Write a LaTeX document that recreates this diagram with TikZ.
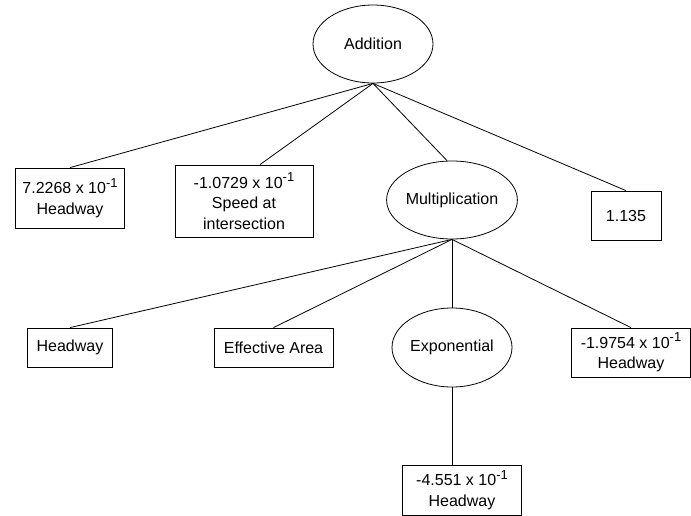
\documentclass[tikz,border=0pt]{standalone}
\usepackage{fontspec}
\setmainfont{Liberation Sans}
\usetikzlibrary{shapes.geometric,calc}
\newcommand{\supexp}[1]{\raisebox{0.42em}{\fontsize{13}{13}\selectfont #1}}
\begin{document}
\begin{tikzpicture}[x=1pt,y=-1pt,
  every node/.style={font=\fontsize{16}{20.5}\selectfont, inner sep=0pt},
  oval/.style={draw, ellipse, line width=0.8pt, minimum width=120pt, minimum height=78pt},
  leaf/.style={draw, rectangle, line width=0.8pt, align=center},
  edge/.style={line width=0.8pt}]
\useasboundingbox (0,0) rectangle (691,515);
\node[oval] (add) at (373,44) {Addition};
\node[leaf, minimum width=109pt, minimum height=60pt] (c1) at (70,198) {7.2268 x 10\supexp{-1}\\Headway};
\node[leaf, minimum width=138pt, minimum height=72pt] (c2) at (244,201) {-1.0729 x 10\supexp{-1}\\Speed at\\intersection};
\node[oval] (mul) at (452,200) {Multiplication};
\node[leaf, minimum width=70pt, minimum height=49pt] (c4) at (626,215.5) {1.135};
\node[leaf, minimum width=85pt, minimum height=39pt] (m1) at (70,347.5) {Headway};
\node[leaf, minimum width=119pt, minimum height=39pt] (m2) at (273.5,347.5) {Effective Area};
\node[oval, minimum height=79pt] (exp) at (452,347.5) {Exponential};
\node[leaf, minimum width=118.5pt, minimum height=49pt] (m4) at (631,352.5) {-1.9754 x 10\supexp{-1}\\Headway};
\node[leaf, minimum width=119pt, minimum height=50pt] (e1) at (462,490) {-4.551 x 10\supexp{-1}\\Headway};
\draw[edge] (add.south) -- (c1.north);
\draw[edge] (add.south) -- ($(c2.north)+(16,0)$);
\draw[edge] (add.south) -- ($(mul.north)+(-5,0)$);
\draw[edge] (add.south) -- (c4.north);
\draw[edge] (mul.south) -- (m1.north);
\draw[edge] (mul.south) -- (m2.north);
\draw[edge] (mul.south) -- (exp.north);
\draw[edge] (mul.south) -- (m4.north);
\draw[edge] (exp.south) -- (exp.south |- e1.north);
\end{tikzpicture}
\end{document}
